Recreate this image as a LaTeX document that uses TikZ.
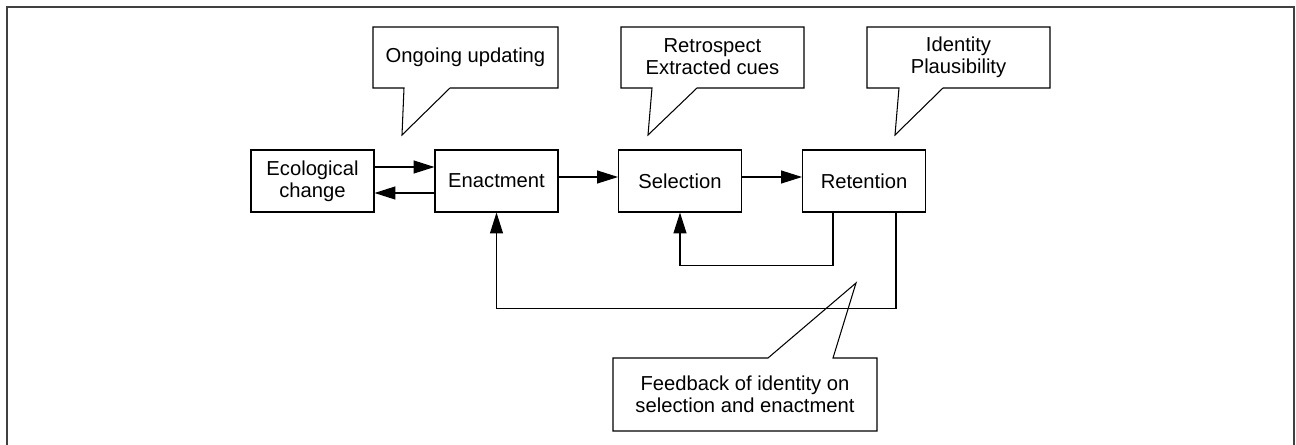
\documentclass[tikz,border=0pt]{standalone}
\usepackage{fontspec}
\setmainfont{Liberation Sans}
\usetikzlibrary{arrows.meta}

\begin{document}
\begin{tikzpicture}[x=0.02cm, y=-0.02cm,
    box/.style={draw, line width=0.6pt, minimum width=2.46cm, minimum height=1.24cm,
      align=center, inner sep=0pt, font=\fontsize{11.5}{12.6}\selectfont},
    arr/.style={line width=0.6pt, -{Triangle[length=11.9pt, width=7.4pt]}},
    note/.style={draw, line width=0.6pt},
    notetext/.style={align=center, inner sep=0pt, font=\fontsize{11.5}{12.6}\selectfont}]
      \useasboundingbox (0,0) rectangle (1296,444);
      \draw[line width=1.3pt, black!75] (7,446) -- (7,7) -- (1294,7) -- (1294,446);
      % process boxes
      \node[box] (eco) at (312.5,181) {Ecological\\change};
      \node[box] (enact) at (496.5,181) {Enactment};
      \node[box] (sel) at (680,181) {Selection};
      \node[box] (ret) at (864,181) {Retention};
      \draw[arr] ([yshift=0.28cm]eco.east) -- ([yshift=0.28cm]enact.west);
      \draw[arr] ([yshift=-0.24cm]enact.west) -- ([yshift=-0.24cm]eco.east);
      \draw[arr] ([yshift=0.08cm]enact.east) -- ([yshift=0.08cm]sel.west);
      \draw[arr] ([yshift=0.08cm]sel.east) -- ([yshift=0.08cm]ret.west);
      \draw[arr] ([xshift=-0.62cm]ret.south) -- ++(0,-1.06cm) -| (sel.south);
      \draw[arr] ([xshift=0.64cm]ret.south) -- ++(0,-1.92cm) -| (enact.south);
      % callouts
      \draw[note] (373,27) -- (558,27) -- (558,88) -- (450,88) -- (402,135)
        -- (404,88) -- (373,88) -- cycle;
      \node[notetext] (upd) at (465.5,57) {Ongoing updating};
      \draw[note] (621,27) -- (804,27) -- (804,88) -- (697,88) -- (648,135)
        -- (652,88) -- (621,88) -- cycle;
      \node[notetext] (retro) at (712.5,57) {Retrospect\\Extracted cues};
      \draw[note] (867,27) -- (1050,27) -- (1050,88) -- (943,88) -- (895,135)
        -- (899,88) -- (867,88) -- cycle;
      \node[notetext] (ident) at (958.5,57) {Identity\\Plausibility};
      \draw[note] (613,358) -- (768,358) -- (856,283) -- (833,358) -- (877,358)
        -- (877,431) -- (613,431) -- cycle;
      \node[notetext] (feed) at (745,394.5) {Feedback of identity on\\selection and enactment};
\end{tikzpicture}
\end{document}
